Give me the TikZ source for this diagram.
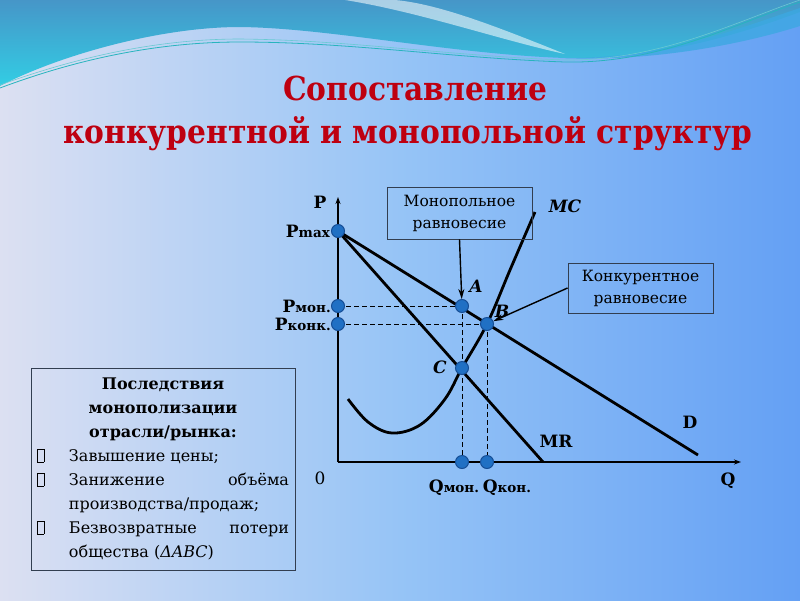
\documentclass[tikz,border=0pt]{standalone}
\usepackage{fontspec}
\setmainfont{DejaVu Serif}
\newfontfamily\titlefont[FakeStretch=0.9]{DejaVu Serif}
\usetikzlibrary{arrows.meta,calc}
\definecolor{titlered}{RGB}{190,0,16}
\definecolor{dotblue}{RGB}{32,112,196}
\definecolor{dotedge}{RGB}{22,78,150}
\definecolor{bgleft}{RGB}{220,224,242}
\definecolor{bgmid}{RGB}{150,196,246}
\definecolor{bgright}{RGB}{100,160,244}
\definecolor{wavetop}{RGB}{70,150,200}
\definecolor{wavebot}{RGB}{50,205,228}
\definecolor{waveband}{RGB}{60,168,226}
\definecolor{boxline}{RGB}{50,62,80}
\definecolor{thinteal}{RGB}{40,180,190}
\tikzset{
  curveline/.style={line width=2.8pt, black},
  axisline/.style={line width=1.3pt, black, -{Stealth[length=7pt,width=5pt]}},
  dashline/.style={line width=0.9pt, black, dash pattern=on 5pt off 3pt},
  dot/.style={circle, fill=dotblue, draw=dotedge, line width=1pt, minimum size=13pt, inner sep=0pt},
  infobox/.style={draw=boxline, line width=0.9pt, align=center, inner sep=0pt, font=\fontsize{15.5}{22}\selectfont},
  pointer/.style={line width=1.4pt, black, -{Stealth[length=10pt,width=6pt]}},
  lbl/.style={font=\fontsize{17}{17}\selectfont\bfseries, inner sep=0pt},
  ptlbl/.style={font=\fontsize{17}{17}\selectfont\bfseries\itshape, inner sep=0pt},
  titletext/.style={font=\titlefont\fontsize{33}{40}\selectfont\bfseries, text=titlered, inner sep=0pt}
}
\newcommand\subl[1]{{\fontsize{13.5}{13.5}\selectfont #1}}
\newcommand\tofu{{\setlength\fboxsep{0pt}\setlength\fboxrule{0.6pt}\fbox{\rule{0pt}{12pt}\rule{6pt}{0pt}}}}
\newcommand\bul[1]{\par\hangindent=32pt\hangafter=1\noindent\makebox[32pt][l]{\tofu}#1}
\begin{document}
\begin{tikzpicture}[x=1pt,y=-1pt]
\useasboundingbox (0,0) rectangle (800,600);
% background
\shade[left color=bgleft, right color=bgright, middle color=bgmid] (0,0) rectangle (800,600);
% top waves
\shade[top color=wavetop, bottom color=wavebot] (0,0) -- (800,0) -- (800,12) .. controls (730,38) and (650,60) .. (565,58) .. controls (450,54) and (330,28) .. (240,27) .. controls (160,27) and (60,55) .. (0,86) -- cycle;
\fill[white, opacity=0.55] (345,0) .. controls (420,12) and (500,40) .. (565,54) .. controls (500,28) and (440,4) .. (395,0) -- cycle;
\fill[waveband, opacity=0.8] (560,58) .. controls (660,60) and (740,28) .. (800,8) -- (800,26) .. controls (740,45) and (650,62) .. (560,58) -- cycle;
\draw[thinteal, line width=0.8pt] (0,88) .. controls (80,58) and (160,42) .. (240,42) .. controls (350,42) and (450,58) .. (565,62) .. controls (660,64) and (740,22) .. (800,2);
\draw[thinteal!70!white, line width=0.6pt] (0,85) .. controls (80,56) and (160,39) .. (240,39) .. controls (350,40) and (450,56) .. (565,60) .. controls (660,61) and (740,20) .. (800,0);
% title
\node[titletext, anchor=base] (title1) at (415,100) {Сопоставление};
\node[titletext, anchor=base] (title2) at (408,143) {конкурентной и монопольной структур};
% coordinates
\coordinate (O) at (338,462);
\coordinate (Ptop) at (338,197);
\coordinate (Qend) at (741,462);
\coordinate (pPmax) at (338,231);
\coordinate (pPmon) at (338,306);
\coordinate (pPkon) at (338,324);
\coordinate (pA) at (462,306);
\coordinate (pB) at (487,324);
\coordinate (pC) at (462,368);
\coordinate (pQmon) at (462,462);
\coordinate (pQkon) at (487,462);
\coordinate (Dend) at (698,455);
\coordinate (MRend) at (543,462);
% axes
\draw[axisline] (O) -- (Ptop);
\draw[axisline] (O) -- (Qend);
% dashed
\draw[dashline] (pPmon) -- (pA);
\draw[dashline] (pPkon) -- (pB);
\draw[dashline] (pA) -- (pQmon);
\draw[dashline] (pB) -- (pQkon);
% curves
\draw[curveline] (pPmax) -- (Dend);
\draw[curveline] (pPmax) -- (MRend);
\draw[curveline] plot[smooth, tension=0.6] coordinates {(348,399) (368,422) (392,433) (420,425) (445,399) (462,368) (487,324) (510,270) (535,212)};
% dots
\node[dot] (Pmax) at (pPmax) {};
\node[dot] (Pmon) at (pPmon) {};
\node[dot] (Pkon) at (pPkon) {};
\node[dot] (A) at (pA) {};
\node[dot] (B) at (pB) {};
\node[dot] (C) at (pC) {};
\node[dot] (Qmon) at (pQmon) {};
\node[dot] (Qkon) at (pQkon) {};
% labels
\node[lbl, anchor=base] (Plab) at (320,208) {P};
\node[lbl, anchor=base east] (Pmaxlab) at (330,237) {P\subl{max}};
\node[lbl, anchor=base east] (Pmonlab) at (331,312) {P\subl{мон.}};
\node[lbl, anchor=base east] (Pkonlab) at (331,330) {P\subl{конк.}};
\node[lbl, anchor=base] (zero) at (320,484) {\mdseries 0};
\node[lbl, anchor=base] (Qlab) at (728,485) {Q};
\node[lbl, anchor=base] (Qmonlab) at (454,492) {Q\subl{мон.}};
\node[lbl, anchor=base] (Qkonlab) at (507,492) {Q\subl{кон.}};
\node[lbl, anchor=base] (Dlab) at (690,428) {D};
\node[lbl, anchor=base] (MRlab) at (556,447) {MR};
\node[ptlbl, anchor=base] (MClab) at (565,212) {MC};
\node[ptlbl, anchor=base] (Alab) at (476,292) {A};
\node[ptlbl, anchor=base] (Blab) at (502,317) {B};
\node[ptlbl, anchor=base] (Clab) at (440,373) {C};
% info boxes
\node[infobox, minimum width=145pt, minimum height=52pt] (mono) at (459.5,213) {Монопольное\\равновесие};
\node[infobox, minimum width=145pt, minimum height=50pt] (konk) at (640.5,288) {Конкурентное\\равновесие};
\draw[pointer] (mono.south) -- (A);
\draw[pointer] (konk.west) -- (B);
% consequences
\node[draw=boxline, line width=0.9pt, text width=252pt, align=justify, minimum width=264pt, minimum height=202pt, inner xsep=6pt, inner ysep=3pt, font=\fontsize{16}{24}\selectfont] (cons) at (163,469) {%
\hyphenpenalty=10000\exhyphenpenalty=10000\tolerance=9999\emergencystretch=20pt
{\centering\bfseries Последствия\\монополизации\\отрасли/рынка:\par}
\bul{Завышение цены;}
\bul{Занижение объёма производства/продаж;}
\bul{Безвозвратные потери общества (\textit{ΔABC})}\par};
\end{tikzpicture}
\end{document}
